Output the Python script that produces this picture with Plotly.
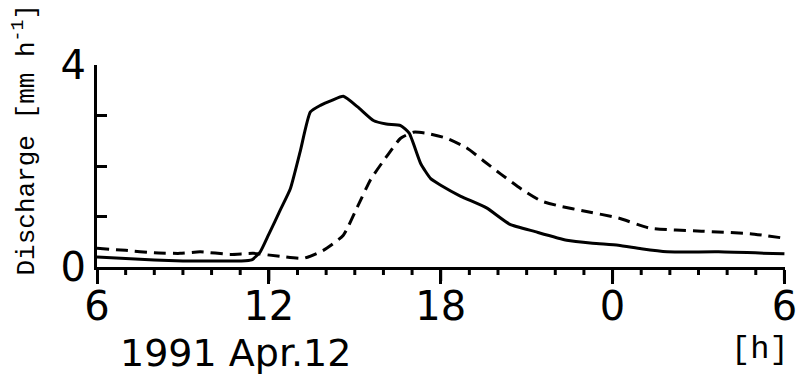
import plotly.graph_objects as go

# Time in hours from 1991 Apr.12 00:00 (24 = next day 0h)
t_solid = [6, 7, 8, 9, 10, 11, 11.4, 11.7, 12.0, 12.4, 12.75, 13.1, 13.45, 13.8, 14.2, 14.6,
           15.1, 15.65, 16.1, 16.6, 16.9, 17.3, 17.65, 18.0, 18.7, 19.6, 20.4, 21.3, 22.4,
           23.3, 24.2, 25.0, 25.9, 27.7, 30.0]
q_solid = [0.2, 0.17, 0.14, 0.12, 0.12, 0.12, 0.14, 0.3, 0.65, 1.13, 1.55, 2.3, 3.07, 3.2, 3.3, 3.38,
           3.17, 2.9, 2.83, 2.8, 2.65, 2.05, 1.75, 1.62, 1.4, 1.17, 0.85, 0.7, 0.53,
           0.47, 0.43, 0.36, 0.3, 0.3, 0.26]

t_dash = [6, 7, 8, 8.9, 9.6, 10.65, 11.45, 12.4, 13.2, 13.9, 14.6, 15.1, 15.55, 16.1, 16.6,
          17.05, 17.5, 18.2, 18.9, 19.5, 20.1, 20.8, 21.5, 22.2, 23.0, 24.2, 25.3, 27.1, 28.8, 30.0]
q_dash = [0.37, 0.33, 0.28, 0.27, 0.3, 0.25, 0.27, 0.21, 0.17, 0.33, 0.63, 1.2, 1.73, 2.18, 2.55,
          2.67, 2.65, 2.55, 2.36, 2.1, 1.84, 1.55, 1.31, 1.2, 1.11, 0.97, 0.77, 0.71, 0.66, 0.57]

x_major_ticks = [6, 12, 18, 24, 30]
x_hour_ticks = list(range(6, 31))
x_label_alias = {"24": "0", "30": "6"}
y_tickvals = [0, 1, 2, 3, 4]
y_ticktext = ["0", " ", " ", " ", "4"]
x_range = [6, 30.02]

SANS = "DejaVu Sans, sans-serif"
MONO = "Liberation Mono, DejaVu Sans Mono, monospace"

PLOT_H = 375 - 65 - 108  # plot-area height in px

fig = go.Figure()
fig.add_trace(go.Scatter(x=t_solid, y=q_solid, mode="lines",
                         line=dict(color="black", width=3, shape="spline", smoothing=0.5),
                         showlegend=False))
fig.add_trace(go.Scatter(x=t_dash, y=q_dash, mode="lines",
                         line=dict(color="black", width=3, dash="12px,7px", shape="spline", smoothing=0.5),
                         showlegend=False))

# hour tick marks below the time axis (long at every 6 h)
for h in x_hour_ticks:
    tick_len = 14 if h in x_major_ticks else 8
    fig.add_shape(type="line", xref="x", yref="paper", x0=h, x1=h, y0=0, y1=-tick_len / PLOT_H,
                  line=dict(color="black", width=3), layer="above")

fig.update_layout(
    width=796, height=375, autosize=False,
    margin=dict(l=97, r=11, t=65, b=108),
    paper_bgcolor="white", plot_bgcolor="white",
    font=dict(family=SANS, color="black"),
    xaxis=dict(range=x_range, tickmode="linear", tick0=6, dtick=6, labelalias=x_label_alias,
               ticks="outside", ticklen=14, tickwidth=3, tickcolor="black",
               showline=True, linewidth=3, linecolor="black", showgrid=False, zeroline=False,
               ticklabeloverflow="allow", ticklabelstandoff=-12, automargin=False,
               tickfont=dict(family=SANS, size=40)),
    yaxis=dict(range=[0, 4], tickvals=y_tickvals, ticktext=y_ticktext,
               ticks="inside", ticklen=10, tickwidth=3, tickcolor="black", automargin=False,
               showline=True, linewidth=3, linecolor="black", showgrid=False, zeroline=False,
               tickfont=dict(family=SANS, size=40)),
    annotations=[
        dict(text="1991 Apr.12", xref="paper", yref="paper", x=0.03, y=-0.425,
             xanchor="left", yanchor="middle", showarrow=False,
             font=dict(family=SANS, size=38)),
        dict(text="[h]", xref="paper", yref="paper", x=1.008, y=-0.41,
             xanchor="right", yanchor="middle", showarrow=False,
             font=dict(family=MONO, size=32)),
        dict(text="Discharge [mm h<sup>-1</sup>]", xref="paper", yref="paper", x=-0.105, y=0.63,
             xanchor="center", yanchor="middle", showarrow=False, textangle=-90,
             font=dict(family=MONO, size=26)),
    ],
)

fig.write_html("out.html")
